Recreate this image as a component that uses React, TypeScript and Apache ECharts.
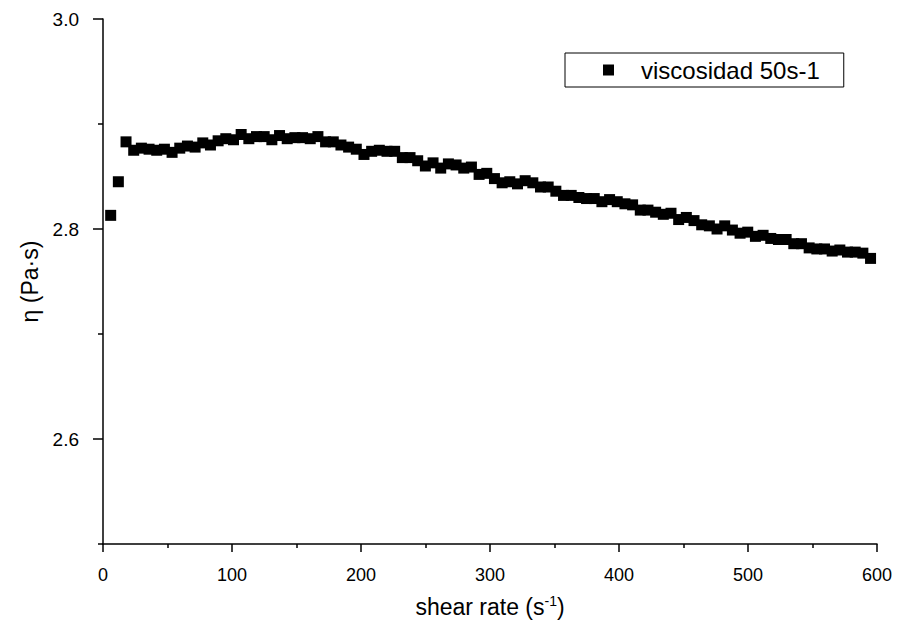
import React, { useEffect, useRef } from "react";
import * as echarts from "echarts";

const shearRate: number[] = [
  5.95, 11.9, 17.85, 23.8, 29.75, 35.7, 41.65, 47.6, 53.55, 59.5,
  65.45, 71.4, 77.35, 83.3, 89.25, 95.2, 101.15, 107.1, 113.05, 119,
  124.95, 130.9, 136.85, 142.8, 148.75, 154.7, 160.65, 166.6, 172.55, 178.5,
  184.45, 190.4, 196.35, 202.3, 208.25, 214.2, 220.15, 226.1, 232.05, 238,
  243.95, 249.9, 255.85, 261.8, 267.75, 273.7, 279.65, 285.6, 291.55, 297.5,
  303.45, 309.4, 315.35, 321.3, 327.25, 333.2, 339.15, 345.1, 351.05, 357,
  362.95, 368.9, 374.85, 380.8, 386.75, 392.7, 398.65, 404.6, 410.55, 416.5,
  422.45, 428.4, 434.35, 440.3, 446.25, 452.2, 458.15, 464.1, 470.05, 476,
  481.95, 487.9, 493.85, 499.8, 505.75, 511.7, 517.65, 523.6, 529.55, 535.5,
  541.45, 547.4, 553.35, 559.3, 565.25, 571.2, 577.15, 583.1, 589.05, 595,
];

const viscosity: number[] = [
  2.813, 2.845, 2.883, 2.875, 2.877, 2.876, 2.875, 2.876, 2.873, 2.877,
  2.879, 2.878, 2.882, 2.880, 2.884, 2.886, 2.885, 2.890, 2.886, 2.888,
  2.888, 2.885, 2.889, 2.886, 2.887, 2.887, 2.886, 2.888, 2.883, 2.883,
  2.880, 2.878, 2.876, 2.871, 2.874, 2.875, 2.874, 2.874, 2.868, 2.868,
  2.865, 2.860, 2.863, 2.858, 2.862, 2.861, 2.858, 2.859, 2.852, 2.853,
  2.848, 2.844, 2.845, 2.843, 2.846, 2.844, 2.840, 2.840, 2.836, 2.832,
  2.832, 2.830, 2.829, 2.829, 2.826, 2.828, 2.826, 2.824, 2.823, 2.818,
  2.818, 2.816, 2.814, 2.815, 2.809, 2.811, 2.808, 2.804, 2.803, 2.800,
  2.803, 2.799, 2.796, 2.797, 2.793, 2.794, 2.791, 2.790, 2.790, 2.786,
  2.786, 2.782, 2.781, 2.781, 2.779, 2.780, 2.778, 2.778, 2.777, 2.772,
];

const yMajorTicks: number[] = [2.6, 2.8, 3.0];
const yMinorTicks: number[] = [2.5, 2.7, 2.9];
const xMajorTicks: number[] = [0, 100, 200, 300, 400, 500, 600];
const xMinorTicks: number[] = [50, 150, 250, 350, 450, 550];

const seriesName = "viscosidad 50s-1";
const FONT = "'Liberation Sans', Arial, sans-serif";

export default function App() {
  const ref = useRef<HTMLDivElement>(null);

  useEffect(() => {
    if (!ref.current) return;
    const chart = echarts.init(ref.current, null, { renderer: "svg" });
    const axisLine = { show: true, lineStyle: { color: "#000", width: 1.5 } };
    chart.setOption({
      animation: false,
      backgroundColor: "#fff",
      textStyle: { fontFamily: FONT },
      grid: { left: 103, top: 19, width: 774, height: 525, containLabel: false },
      legend: {
        left: 565,
        top: 53,
        orient: "horizontal",
        data: [seriesName],
        icon: "rect",
        itemWidth: 11,
        itemHeight: 11,
        borderColor: "#000",
        borderWidth: 1,
        padding: [5, 24, 5, 38],
        textStyle: { fontSize: 24, color: "#000", fontFamily: FONT, padding: [0, 0, 0, 22] },
      },
      xAxis: [
        {
          type: "value",
          min: 0,
          max: 600,
          interval: 100,
          name: "{a|shear rate (s}{b|-1}{a|)}",
          nameLocation: "middle",
          nameGap: 50,
          nameTextStyle: {
            rich: {
              a: { fontSize: 23, color: "#000", fontFamily: FONT },
              b: { fontSize: 14, color: "#000", fontFamily: FONT, verticalAlign: "top", padding: [0, 0, 12, 0] },
            },
          },
          axisLine,
          axisTick: { show: true, inside: false, length: 8, lineStyle: { color: "#000", width: 1.5 }, customValues: xMajorTicks },
          axisLabel: { fontSize: 18, color: "#000", margin: 22, fontFamily: FONT, customValues: xMajorTicks },
          splitLine: { show: false },
        },
        {
          type: "value",
          min: 0,
          max: 600,
          position: "bottom",
          axisLine: { show: false },
          axisTick: { show: true, inside: false, length: 4, lineStyle: { color: "#000", width: 1.5 }, customValues: xMinorTicks },
          axisLabel: { show: false },
          splitLine: { show: false },
        },
      ],
      yAxis: [
        {
          type: "value",
          min: 2.5,
          max: 3.0,
          name: "η (Pa·s)",
          nameLocation: "middle",
          nameRotate: 90,
          nameGap: 60,
          nameTextStyle: { fontSize: 23, color: "#000", fontFamily: FONT },
          axisLine,
          axisTick: { show: true, inside: false, length: 10, lineStyle: { color: "#000", width: 1.5 }, customValues: yMajorTicks },
          axisLabel: {
            fontSize: 19,
            color: "#000",
            margin: 24,
            fontFamily: FONT,
            customValues: yMajorTicks,
            formatter: (v: number) => v.toFixed(1),
          },
          splitLine: { show: false },
        },
        {
          type: "value",
          min: 2.5,
          max: 3.0,
          position: "left",
          axisLine: { show: false },
          axisTick: { show: true, inside: false, length: 5, lineStyle: { color: "#000", width: 1.5 }, customValues: yMinorTicks },
          axisLabel: { show: false },
          splitLine: { show: false },
        },
      ],
      series: [
        {
          name: seriesName,
          type: "scatter",
          symbol: "rect",
          symbolSize: 11,
          itemStyle: { color: "#000", opacity: 1 },
          data: shearRate.map((x, i) => [x, viscosity[i]]),
        },
      ],
    });
    return () => chart.dispose();
  }, []);

  return <div ref={ref} style={{ width: 900, height: 632, margin: -8 }} />;
}
